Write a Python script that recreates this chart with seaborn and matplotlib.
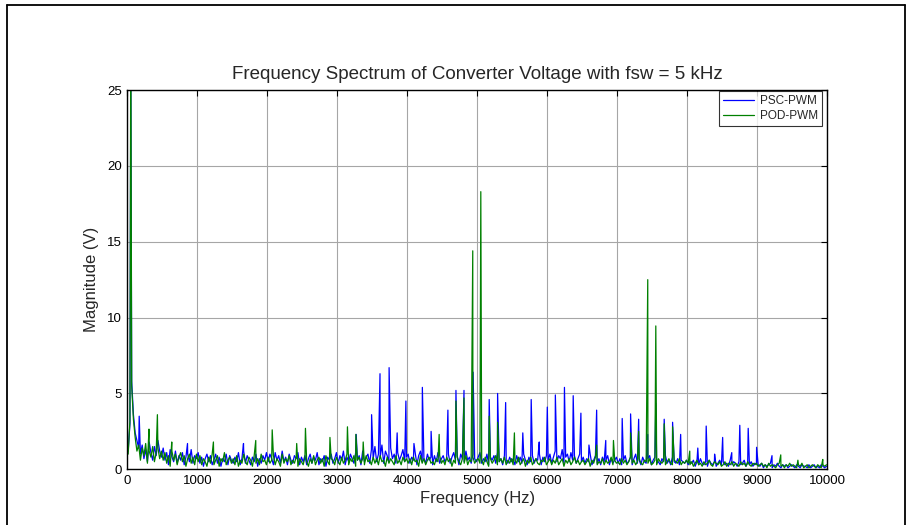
import numpy as np
import pandas as pd
import matplotlib
matplotlib.use("Agg")
import matplotlib.pyplot as plt
from matplotlib.lines import Line2D
import seaborn as sns

freq_grid = np.arange(12.5, 10000, 25)

psc_noise = [
    1.2, 3.0, 5.8, 3.6, 2.4, 1.9, 1.4, 1.0, 1.6, 0.7, 1.3, 0.5, 1.8, 1.1, 0.6, 1.5, 0.9, 1.9, 1.2, 0.8,
    1.4, 0.6, 1.1, 0.3, 1.3, 0.8, 0.5, 1.2, 0.4, 0.9, 0.6, 1.1, 0.3, 0.8, 1.0, 0.5, 1.3, 0.4, 0.9, 0.7,
    1.1, 0.4, 0.8, 0.2, 0.7, 1.0, 0.5, 0.9, 0.3, 0.6, 1.0, 0.4, 0.8, 0.2, 0.7, 0.5, 1.0, 0.3, 0.9, 0.6,
    0.4, 0.8, 0.5, 1.1, 0.3, 0.7, 1.2, 0.4, 0.9, 0.6, 0.3, 0.8, 0.5, 1.0, 0.2, 0.7, 0.4, 0.9, 0.6, 1.1,
    0.5, 1.0, 0.7, 0.3, 1.1, 0.6, 0.9, 0.4, 1.2, 0.5, 0.8, 0.3, 1.0, 0.6, 0.4, 0.9, 0.7, 1.1, 0.3, 0.8,
    0.5, 0.9, 0.3, 0.7, 1.0, 0.4, 0.8, 0.6, 1.1, 0.3, 0.7, 0.5, 0.9, 0.2, 0.8, 0.6, 1.0, 0.4, 0.7, 1.1,
    0.4, 0.9, 0.6, 1.2, 0.3, 0.8, 0.5, 1.0, 0.7, 0.4, 1.1, 0.6, 0.9, 0.3, 1.2, 0.5, 0.8, 1.0, 0.4, 1.3,
    0.7, 1.5, 0.5, 1.0, 0.8, 1.6, 0.4, 1.2, 0.9, 0.5, 1.4, 0.7, 1.0, 0.4, 1.1, 0.6, 0.9, 1.3, 0.5, 0.8,
    1.0, 0.4, 0.8, 0.6, 1.1, 0.3, 0.9, 1.2, 0.5, 0.7, 0.4, 1.0, 0.6, 0.8, 0.3, 0.9, 0.5, 1.1, 0.4, 0.7,
    0.9, 0.5, 0.7, 1.0, 0.4, 0.8, 1.1, 0.6, 0.9, 0.3, 1.0, 0.7, 0.5, 1.2, 0.6, 0.8, 0.4, 1.0, 0.7, 0.5,
    0.8, 1.1, 0.4, 0.7, 0.5, 1.0, 0.3, 0.8, 0.6, 0.9, 0.4, 1.1, 0.5, 0.7, 0.3, 0.9, 0.6, 0.4, 0.8, 0.5,
    0.7, 0.3, 0.9, 0.5, 0.8, 0.4, 1.0, 0.6, 0.3, 0.8, 0.5, 0.9, 0.4, 0.7, 0.6, 1.0, 0.3, 0.8, 0.5, 0.9,
    0.6, 1.0, 0.4, 0.8, 1.2, 0.5, 0.9, 0.7, 1.3, 0.4, 0.8, 1.0, 0.5, 1.1, 0.6, 0.9, 0.4, 0.7, 1.0, 0.5,
    0.8, 0.4, 0.7, 0.5, 1.0, 0.3, 0.6, 0.9, 0.4, 0.7, 0.3, 0.8, 0.5, 0.6, 0.9, 0.3, 0.7, 0.4, 0.6, 0.8,
    0.4, 0.7, 0.3, 0.6, 0.9, 0.4, 0.5, 0.8, 0.3, 0.7, 1.0, 0.4, 0.6, 0.3, 0.8, 0.5, 0.4, 0.7, 0.9, 0.3,
    0.6, 0.8, 0.4, 0.5, 0.3, 0.7, 0.5, 0.9, 0.4, 0.6, 0.3, 0.8, 0.5, 0.4, 0.7, 0.3, 0.6, 0.5, 0.4, 0.6,
    0.3, 0.5, 0.4, 0.6, 0.2, 0.5, 0.3, 0.7, 0.4, 0.3, 0.5, 0.2, 0.6, 0.4, 0.3, 0.5, 0.2, 0.4, 0.6, 0.3,
    0.5, 0.3, 0.4, 0.2, 0.6, 0.3, 0.5, 0.4, 0.2, 0.5, 0.3, 0.4, 0.6, 0.2, 0.4, 0.3, 0.5, 0.2, 0.4, 0.3,
    0.3, 0.2, 0.4, 0.1, 0.3, 0.2, 0.3, 0.4, 0.1, 0.3, 0.2, 0.4, 0.2, 0.1, 0.3, 0.2, 0.3, 0.1, 0.2, 0.3,
    0.2, 0.1, 0.3, 0.2, 0.1, 0.3, 0.2, 0.2, 0.1, 0.3, 0.1, 0.2, 0.3, 0.1, 0.2, 0.1, 0.3, 0.2, 0.1, 0.2,
]

pod_noise = [
    1.0, 3.2, 5.5, 3.3, 2.1, 1.2, 1.6, 0.6, 1.4, 0.9, 1.7, 0.4, 1.2, 0.8, 1.5, 0.5, 1.1, 1.4, 0.7, 1.2,
    0.6, 1.1, 0.4, 0.9, 0.2, 1.2, 0.6, 1.0, 0.3, 0.8, 1.1, 0.5, 0.9, 0.2, 0.7, 1.0, 0.4, 0.8, 0.3, 1.0,
    0.5, 0.9, 0.3, 0.7, 0.5, 0.2, 0.8, 0.4, 1.0, 0.3, 0.6, 0.9, 0.2, 0.7, 0.5, 1.1, 0.3, 0.6, 0.8, 0.4,
    0.7, 0.3, 0.9, 0.2, 0.6, 0.4, 1.0, 0.5, 0.3, 0.8, 0.6, 0.2, 0.9, 0.4, 0.7, 0.3, 1.0, 0.5, 0.6, 0.3,
    0.8, 0.4, 0.6, 0.9, 0.3, 0.7, 0.5, 0.2, 1.0, 0.4, 0.7, 0.5, 0.9, 0.3, 0.6, 0.4, 0.8, 0.2, 0.7, 0.5,
    0.3, 0.8, 0.5, 0.2, 0.7, 0.4, 0.9, 0.3, 0.6, 0.8, 0.4, 0.7, 0.2, 0.9, 0.5, 0.3, 0.7, 0.6, 0.3, 0.8,
    0.5, 0.3, 0.8, 0.4, 0.6, 1.0, 0.3, 0.7, 0.5, 0.9, 0.2, 0.6, 0.8, 0.4, 0.7, 0.3, 0.9, 0.5, 0.6, 0.3,
    0.8, 0.4, 0.7, 0.3, 0.9, 0.5, 0.6, 0.2, 0.8, 0.4, 0.7, 0.5, 0.3, 0.9, 0.4, 0.6, 0.3, 0.8, 0.5, 0.7,
    0.4, 0.7, 0.3, 0.8, 0.5, 0.6, 0.2, 0.9, 0.4, 0.7, 0.3, 0.6, 0.8, 0.4, 0.5, 0.3, 0.7, 0.5, 0.9, 0.4,
    0.6, 0.3, 0.8, 0.5, 0.7, 0.2, 0.6, 0.4, 0.8, 0.5, 0.3, 0.7, 0.4, 0.9, 0.3, 0.6, 0.5, 0.8, 0.4, 0.6,
    0.7, 0.4, 0.6, 0.3, 0.8, 0.5, 0.2, 0.7, 0.4, 0.6, 0.9, 0.3, 0.5, 0.7, 0.4, 0.8, 0.3, 0.6, 0.4, 0.7,
    0.3, 0.6, 0.4, 0.8, 0.3, 0.5, 0.7, 0.2, 0.6, 0.4, 0.8, 0.3, 0.5, 0.7, 0.4, 0.3, 0.6, 0.5, 0.8, 0.3,
    0.5, 0.7, 0.3, 0.6, 0.4, 0.8, 0.3, 0.5, 0.7, 0.2, 0.6, 0.4, 0.7, 0.3, 0.5, 0.8, 0.4, 0.6, 0.3, 0.5,
    0.6, 0.3, 0.5, 0.7, 0.2, 0.6, 0.4, 0.8, 0.3, 0.5, 0.4, 0.7, 0.3, 0.6, 0.4, 0.5, 0.8, 0.3, 0.6, 0.4,
    0.5, 0.3, 0.7, 0.4, 0.6, 0.3, 0.5, 0.8, 0.4, 0.6, 0.3, 0.5, 0.7, 0.4, 0.3, 0.6, 0.5, 0.4, 0.7, 0.3,
    0.4, 0.6, 0.3, 0.7, 0.5, 0.4, 0.6, 0.3, 0.5, 0.7, 0.4, 0.3, 0.6, 0.5, 0.4, 0.7, 0.3, 0.5, 0.4, 0.6,
    0.4, 0.3, 0.5, 0.2, 0.4, 0.6, 0.3, 0.4, 0.2, 0.5, 0.3, 0.4, 0.6, 0.3, 0.2, 0.5, 0.4, 0.3, 0.5, 0.2,
    0.3, 0.5, 0.2, 0.4, 0.3, 0.5, 0.2, 0.4, 0.3, 0.2, 0.5, 0.3, 0.4, 0.2, 0.5, 0.3, 0.2, 0.4, 0.3, 0.4,
    0.2, 0.3, 0.4, 0.2, 0.3, 0.1, 0.4, 0.2, 0.3, 0.2, 0.1, 0.3, 0.4, 0.2, 0.3, 0.1, 0.3, 0.2, 0.4, 0.2,
    0.3, 0.2, 0.1, 0.3, 0.2, 0.4, 0.1, 0.2, 0.3, 0.1, 0.2, 0.3, 0.2, 0.1, 0.3, 0.2, 0.1, 0.3, 0.2, 0.3,
]

# harmonic peaks (Hz, V)
psc_peak_freq = [50, 170, 860, 1660, 3270, 3490, 3610, 3740, 3855, 3980, 4095, 4215, 4340,
                 4580, 4695, 4810, 4940, 5170, 5290, 5405, 5650, 5770, 5885, 6000, 6115,
                 6245, 6370, 6480, 6595, 6705, 6835, 7070, 7190, 7305, 7435, 7550, 7670,
                 7790, 7905, 8150, 8270, 8390, 8505, 8635, 8750, 8870, 8990, 9210]
psc_peak_mag = [26.0, 3.5, 1.7, 1.7, 2.3, 3.6, 6.3, 6.7, 2.4, 4.5, 1.7, 5.4, 2.5,
                3.9, 5.2, 5.2, 6.4, 4.6, 5.0, 4.4, 2.4, 4.6, 1.8, 4.1, 4.9,
                5.4, 4.85, 3.7, 1.6, 3.9, 1.9, 3.35, 3.65, 3.3, 2.3, 4.35, 3.3,
                3.1, 2.3, 1.4, 2.85, 1.0, 2.1, 1.1, 2.9, 2.7, 1.45, 0.9]

pod_peak_freq = [50, 310, 430, 635, 1230, 1835, 2070, 2420, 2545, 2895, 3145, 3265, 3370,
                 4455, 4695, 4810, 4935, 5050, 5170, 5290, 5530, 6705, 6945, 7190, 7305,
                 7435, 7550, 7670, 7790, 8035, 9335, 9580, 9935]
pod_peak_mag = [30.0, 2.65, 3.6, 1.8, 1.8, 1.9, 2.6, 1.7, 2.7, 2.1, 2.8, 2.3, 1.8,
                2.3, 4.5, 4.7, 14.4, 18.3, 3.5, 3.1, 2.4, 1.6, 1.9, 2.4, 2.5,
                12.5, 9.45, 3.0, 2.8, 1.2, 0.95, 0.6, 0.65]

series_names = ["PSC-PWM", "POD-PWM"]
series_colors = ["#0000ff", "#008000"]

x_ticks = list(range(0, 10001, 1000))
y_ticks = [0, 5, 10, 15, 20, 25]


def build(noise, pk_f, pk_m, name):
    f = np.concatenate([freq_grid, pk_f])
    m = np.concatenate([noise, pk_m])
    order = np.argsort(f)
    return pd.DataFrame({"freq": f[order], "mag": m[order], "series": name})


df = pd.concat([
    build(psc_noise, psc_peak_freq, psc_peak_mag, series_names[0]),
    build(pod_noise, pod_peak_freq, pod_peak_mag, series_names[1]),
], ignore_index=True)

sns.set_style("white")
plt.rcParams['font.family'] = ['Liberation Sans', 'DejaVu Sans']

fig = plt.figure(figsize=(9.07, 5.25), dpi=100)
ax = fig.add_axes([127.3 / 907, 1 - 469.3 / 525, 700 / 907, 379.3 / 525])

sns.lineplot(data=df, x="freq", y="mag", hue="series", hue_order=series_names,
             palette=series_colors, estimator=None, sort=False, linewidth=0.9, ax=ax)

ax.set_xlim(0, 10000)
ax.set_ylim(0, 25)
ax.set_xticks(x_ticks)
ax.set_yticks(y_ticks)
ax.grid(True, color="#a6a6a6", linewidth=0.8)
ax.set_axisbelow(True)
ax.tick_params(direction="in", top=True, right=True, length=4, width=0.8,
               labelsize=9.5, colors="black", pad=4)
for s in ax.spines.values():
    s.set_color("black")
    s.set_linewidth(1.0)

ax.set_title("Frequency Spectrum of Converter Voltage with fsw = 5 kHz", fontsize=13.5, pad=8)
ax.set_xlabel("Frequency (Hz)", fontsize=12, labelpad=3)
ax.set_ylabel("Magnitude (V)", fontsize=12, labelpad=6)

leg = ax.legend(loc="upper right", bbox_to_anchor=(0.9925, 0.997), borderaxespad=0,
                fontsize=8.5, frameon=True, fancybox=False, handlelength=2.6,
                handletextpad=0.5, borderpad=0.35, labelspacing=0.25)
leg.get_frame().set_edgecolor("black")
leg.get_frame().set_linewidth(0.8)
leg.set_title(None)

# figure frame
fig.add_artist(Line2D([6.5 / 907, 6.5 / 907], [0, 1 - 5 / 525], color="black", lw=1.3))
fig.add_artist(Line2D([6.5 / 907, 905 / 907], [1 - 5 / 525, 1 - 5 / 525], color="black", lw=1.3))
fig.add_artist(Line2D([905 / 907, 905 / 907], [0, 1 - 5 / 525], color="black", lw=1.3))

fig.savefig("out.png", dpi=100)
